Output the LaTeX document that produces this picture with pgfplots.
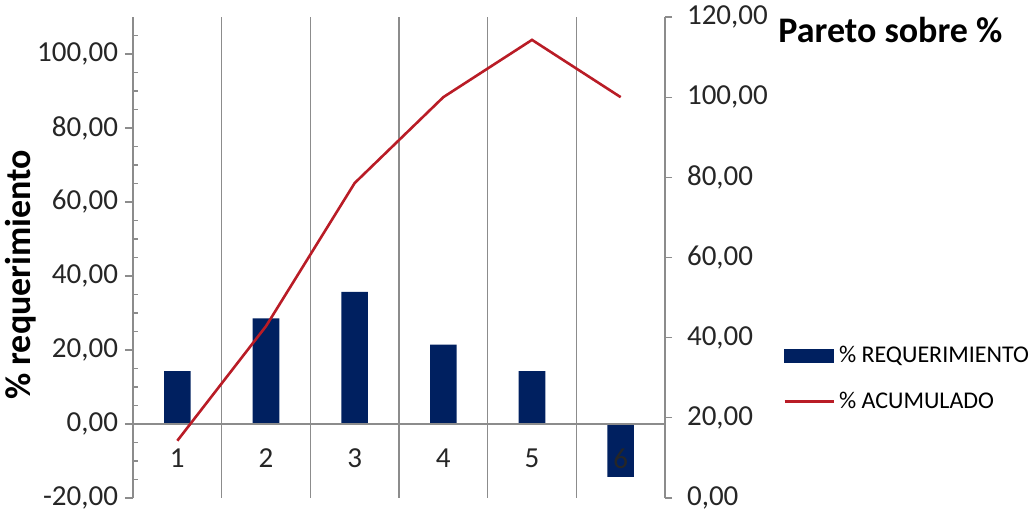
\documentclass[border=0pt]{standalone}
\usepackage{fontspec}
\setmainfont{Carlito}
\usepackage{pgfplots}
\pgfplotsset{compat=1.18}

\definecolor{barblue}{RGB}{0,32,96}
\definecolor{cumred}{RGB}{185,28,38}
\definecolor{gridgray}{RGB}{140,140,140}

\pgfplotsset{
  paretobase/.style={
    at={(0,0)}, anchor=south west,
    scale only axis, width=266pt, height=240.5pt,
    xmin=0.5, xmax=6.5,
    /pgf/number format/.cd, fixed, fixed zerofill, precision=2, use comma, assume math mode=true,
    /pgfplots/.cd,
    tick label style={font=\fontsize{14.5}{16}\selectfont, text=black!85},
  }
}

\begin{document}
\begin{tikzpicture}
\useasboundingbox (-66.5pt,-7pt) rectangle (449pt,249pt);

% bars: share of each requirement (left axis)
\begin{axis}[
  paretobase,
  axis on top,
  ymin=-20, ymax=110,
  axis x line*=middle, axis y line*=left,
  x axis line style={-, draw=gridgray, line width=0.6pt},
  y axis line style={-, draw=gridgray, line width=0.6pt},
  xtick={1,2,3,4,5,6}, xticklabels={1,2,3,4,5,6},
  major x tick style={draw=none},
  xticklabel style={yshift=-5pt},
  minor xtick={1.5,2.5,3.5,4.5,5.5},
  xminorgrids, minor x grid style={draw=gridgray, line width=0.6pt},
  minor x tick style={draw=none},
  ytick={-20,0,20,40,60,80,100},
  minor ytick={-15,-10,-5,5,10,15,25,30,35,45,50,55,65,70,75,85,90,95,105},
  tick align=outside,
  major tick length=4pt, minor tick length=2.5pt,
  y tick style={draw=gridgray, line width=0.6pt},
  minor y tick style={xshift=2.5pt},
  ylabel={\% requerimiento},
  ylabel style={at={(axis description cs:-0.212,0.464)}, anchor=center,
    font=\bfseries\fontsize{18}{20}\selectfont},
]
\addplot[ybar, bar width=0.3, fill=barblue, draw=none]
  coordinates {(1,14.29) (2,28.57) (3,35.71) (4,21.43) (5,14.29) (6,-14.29)};
\end{axis}

% cumulative percentage (right axis)
\begin{axis}[
  paretobase,
  ymin=0, ymax=120,
  axis x line=none, axis y line*=right,
  y axis line style={-, draw=gridgray, line width=0.6pt},
  ytick={0,20,40,60,80,100,120},
  yticklabel style={xshift=4pt},
  tick align=outside, major tick length=3.5pt,
  y tick style={draw=gridgray, line width=0.6pt},
  legend style={draw=none, fill=none, inner sep=0pt,
    at={(axis description cs:1.2218,0.2474)}, anchor=west,
    font=\fontsize{12}{14}\selectfont, row sep=9pt,
    legend cell align=left},
]
\addlegendimage{legend image code/.code={\fill[barblue] (0pt,-3.25pt) rectangle (24.5pt,3.25pt);}}
\addlegendentry{\% REQUERIMIENTO}
\addplot[cumred, line width=1.3pt,
  legend image code/.code={\draw[cumred,line width=1.3pt] (0pt,0pt) -- (24.5pt,0pt);}]
  coordinates {(1,14.29) (2,42.86) (3,78.57) (4,100) (5,114.29) (6,100)};
\addlegendentry{\% ACUMULADO}
\end{axis}

\node[anchor=base west, font=\bfseries\fontsize{18}{20}\selectfont, inner sep=0pt]
  at (322.5pt,227.5pt) {Pareto sobre \%};
\end{tikzpicture}
\end{document}
